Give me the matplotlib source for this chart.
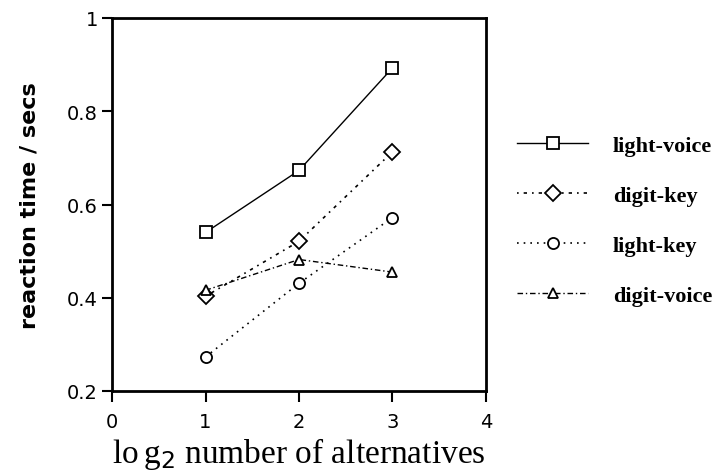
import matplotlib
matplotlib.use("Agg")
import matplotlib.pyplot as plt

x = [1, 2, 3]
light_voice = [0.54, 0.673, 0.893]
digit_key = [0.403, 0.521, 0.713]
light_key = [0.273, 0.431, 0.572]
digit_voice = [0.416, 0.482, 0.455]
labels = ["light-voice", "digit-key", "light-key", "digit-voice"]
xticks = [0, 1, 2, 3, 4]
yticks = [0.2, 0.4, 0.6, 0.8, 1.0]
yticklabels = ["0.2", "0.4", "0.6", "0.8", "1"]

fig = plt.figure(figsize=(7.24, 4.77), dpi=100)
ax = fig.add_axes([112/724, 1-392/477, (486-112)/724, (392-19)/477])

styles = [
    dict(ls="-", marker="s", lw=1.0),
    dict(ls=(0, (1, 3, 2, 3)), marker="D", lw=1.2),
    dict(ls=(0, (1, 3)), marker="o", lw=1.2),
    dict(ls=(0, (4, 2, 1, 2)), marker="^", lw=1.0),
]
series = [light_voice, digit_key, light_key, digit_voice]
msz = [9, 8, 8, 7]
for ys, st, lab, m in zip(series, styles, labels, msz):
    ax.plot(x, ys, color="black", mfc="white", mec="black", ms=m,
            mew=1.3, label=lab, **st)

ax.set_xlim(0, 4)
ax.set_ylim(0.2, 1.0)
ax.set_xticks(xticks)
ax.set_xticklabels([str(t) for t in xticks], fontsize=14, family="DejaVu Sans")
ax.set_yticks(yticks)
ax.set_yticklabels(yticklabels, fontsize=14, family="DejaVu Sans")
ax.tick_params(axis="x", direction="out", length=8, width=1.5, colors="black", pad=7)
ax.tick_params(axis="y", direction="out", length=7, width=1.5, colors="black", pad=3)
for s in ax.spines.values():
    s.set_linewidth(2)

ax.set_ylabel("reaction time / secs", fontsize=16, fontweight="bold",
              family="DejaVu Sans", labelpad=20)
ax.set_xlabel(r"lo$\,$g$_2$ number of alternatives", fontsize=24,
              family="Liberation Serif", labelpad=3)

leg = ax.legend(loc="upper left", bbox_to_anchor=(1.03, 0.74), frameon=False,
                prop={"family": "Liberation Serif", "size": 16, "weight": "bold"},
                handlelength=3.2, labelspacing=1.33, handletextpad=1.1)

fig.savefig("out.png", dpi=100)
